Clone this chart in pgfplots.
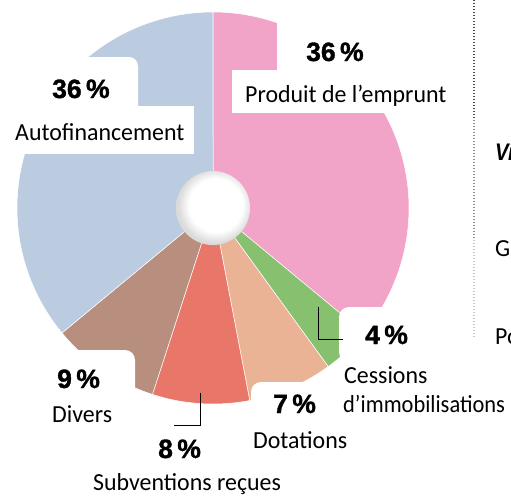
\documentclass[border=0pt]{standalone}
\usepackage{pgfplots}
\pgfplotsset{compat=1.18}
\usepackage{graphicx}
\usepackage{fontspec}
\setmainfont{Carlito}[FakeStretch=0.975]
\newfontfamily\pctfont{Liberation Sans Bold}[FakeBold=1.3]
\newfontfamily\vifont{Liberation Sans Bold Italic}[FakeStretch=0.85]
\definecolor{cPink}{HTML}{F2A3C8}
\definecolor{cGreen}{HTML}{87C170}
\definecolor{cPeach}{HTML}{EAB396}
\definecolor{cRed}{HTML}{E8776A}
\definecolor{cBrown}{HTML}{B88E7E}
\definecolor{cBlue}{HTML}{BBCBE0}
\pgfdeclareradialshading{hole}{\pgfpoint{3bp}{3bp}}{color(0bp)=(white); color(18bp)=(white); color(25bp)=(black!14); color(50bp)=(black!14)}
\newcommand{\pct}[1]{{\pctfont\fontsize{26.5}{26}\selectfont #1\,\%}}
\newcommand{\lab}[1]{{\fontsize{24.5}{26}\selectfont #1}}
\begin{document}
\begin{tikzpicture}[x=1pt,y=1pt]
\useasboundingbox (0,0) rectangle (511,496);
\clip (0,0) rectangle (511,496);
\begin{axis}[at={(0,0)}, anchor=south west, scale only axis, width=511pt, height=496pt,
  xmin=0, xmax=511, ymin=0, ymax=496, y dir=reverse, hide axis, clip=false]
% pie slices: cumulative percentages (clockwise from top)
% Produit de l'emprunt 36, Cessions 4, Dotations 7, Subventions 8, Divers 9, Autofinancement 36
\addplot[fill=cPink, draw=white, line width=0.5pt, domain=0:36, samples=80, variable=\t] ({213+196*sin(3.6*\t)}, {208-196*cos(3.6*\t)}) -- (axis cs:213,208) -- cycle;
\addplot[fill=cGreen, draw=white, line width=0.5pt, domain=36:40, samples=12, variable=\t] ({213+196*sin(3.6*\t)}, {208-196*cos(3.6*\t)}) -- (axis cs:213,208) -- cycle;
\addplot[fill=cPeach, draw=white, line width=0.5pt, domain=40:47, samples=20, variable=\t] ({213+196*sin(3.6*\t)}, {208-196*cos(3.6*\t)}) -- (axis cs:213,208) -- cycle;
\addplot[fill=cRed, draw=white, line width=0.5pt, domain=47:55, samples=20, variable=\t] ({213+196*sin(3.6*\t)}, {208-196*cos(3.6*\t)}) -- (axis cs:213,208) -- cycle;
\addplot[fill=cBrown, draw=white, line width=0.5pt, domain=55:64, samples=24, variable=\t] ({213+196*sin(3.6*\t)}, {208-196*cos(3.6*\t)}) -- (axis cs:213,208) -- cycle;
\addplot[fill=cBlue, draw=white, line width=0.5pt, domain=64:100, samples=80, variable=\t] ({213+196*sin(3.6*\t)}, {208-196*cos(3.6*\t)}) -- (axis cs:213,208) -- cycle;
% white label boxes
\fill[white, rounded corners=9pt] (axis cs:-20,57) rectangle (axis cs:138,125);
\fill[white] (axis cs:-20,106) rectangle (axis cs:194,154);
\fill[white, rounded corners=9pt] (axis cs:277,12) rectangle (axis cs:540,90);
\fill[white] (axis cs:232,70) rectangle (axis cs:470,113);
\fill[white, rounded corners=10pt] (axis cs:339,307) rectangle (axis cs:540,362);
\fill[white, rounded corners=10pt] (axis cs:251,382) rectangle (axis cs:345,480);
\fill[white, rounded corners=10pt] (axis cs:-20,350) rectangle (axis cs:135,480);
% centre hole
\shade[shading=hole] (axis cs:213,208) circle[radius=37pt];
% leader lines
\draw[black, line width=0.8pt] (axis cs:318,307) -- (axis cs:318,339) -- (axis cs:343,339);
\draw[black, line width=0.8pt] (axis cs:200,393) -- (axis cs:200,425) -- (axis cs:174,425);
% labels
\node[anchor=base west, inner sep=0pt] at (axis cs:52,98) {\pct{36}};
\node[anchor=base west, inner sep=0pt] at (axis cs:15,140) {\lab{Autofinancement}};
\node[anchor=base west, inner sep=0pt] at (axis cs:306,61) {\pct{36}};
\node[anchor=base west, inner sep=0pt] at (axis cs:245,102) {\lab{Produit de l’emprunt}};
\node[anchor=base west, inner sep=0pt] at (axis cs:365,344) {\pct{4}};
\node[anchor=base west, inner sep=0pt] at (axis cs:344,383) {\lab{Cessions}};
\node[anchor=base west, inner sep=0pt] at (axis cs:343,412) {\scalebox{0.94}[1]{\lab{d’immobilisations}}};
\node[anchor=base west, inner sep=0pt] at (axis cs:273,413) {\pct{7}};
\node[anchor=base west, inner sep=0pt] at (axis cs:253,448) {\lab{Dotations}};
\node[anchor=base west, inner sep=0pt] at (axis cs:57,388) {\pct{9}};
\node[anchor=base west, inner sep=0pt] at (axis cs:52,422) {\lab{Divers}};
\node[anchor=base west, inner sep=0pt] at (axis cs:158,458) {\pct{8}};
\node[anchor=base west, inner sep=0pt] at (axis cs:93,490) {\lab{Subventions reçues}};
% neighbouring panel (cut off at the picture's edge, as in the reference)
\draw[black!70, line width=1.2pt, dash pattern=on 0.9pt off 2.1pt] (axis cs:474,0) -- (axis cs:474,120);
\draw[black!45, line width=1.2pt, dash pattern=on 0.9pt off 2.1pt] (axis cs:474,120) -- (axis cs:474,240);
\draw[black!22, line width=1.2pt, dash pattern=on 0.9pt off 2.1pt] (axis cs:474,240) -- (axis cs:474,338);
\node[anchor=base west, inner sep=0pt] at (axis cs:495,160) {{\vifont\fontsize{24}{26}\selectfont Vi}};
\node[anchor=base west, inner sep=0pt] at (axis cs:495,256) {\lab{Gu}};
\node[anchor=base west, inner sep=0pt] at (axis cs:495,344) {\lab{Po}};
\end{axis}
\end{tikzpicture}
\end{document}
